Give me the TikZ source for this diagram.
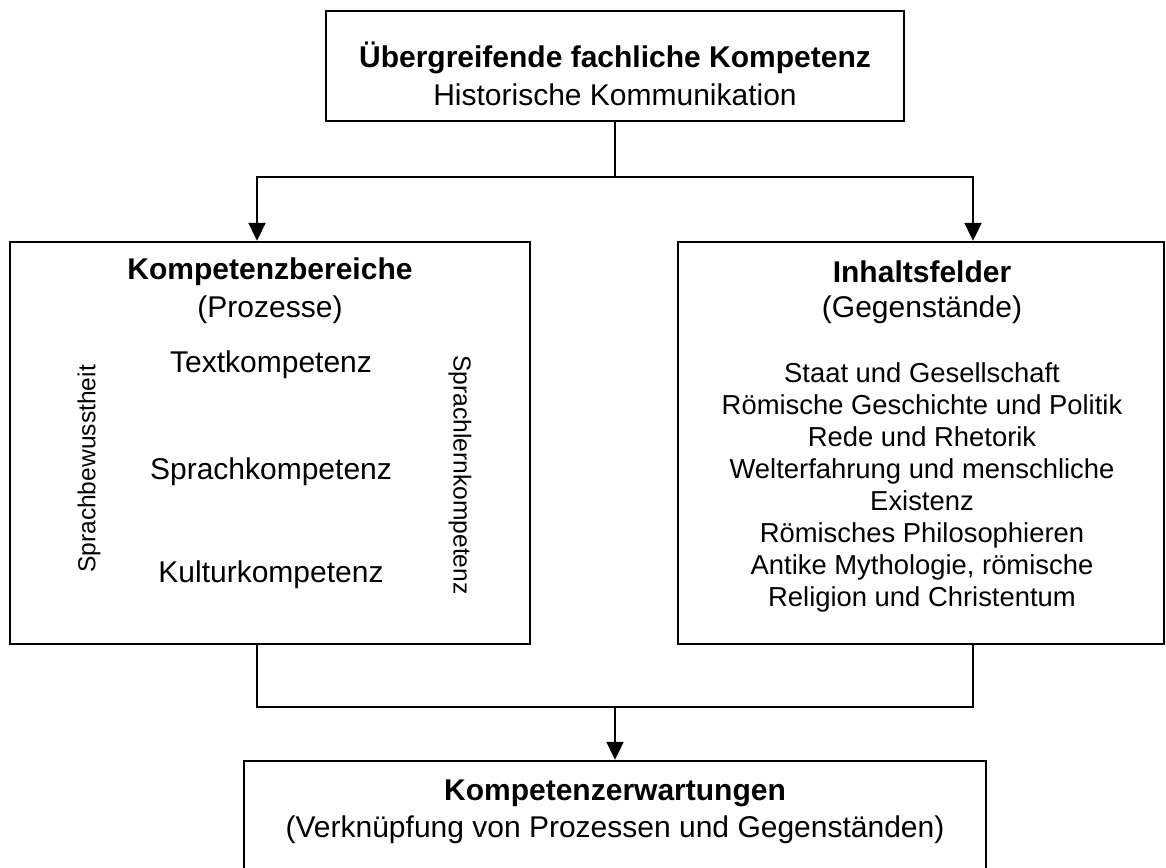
\documentclass[tikz,border=0pt]{standalone}
\usepackage{fontspec}
\setmainfont{Liberation Sans}
\usepackage{tikz}
\usetikzlibrary{arrows.meta,positioning,calc}

\tikzset{
  kasten/.style={draw,line width=1.2pt,inner sep=0pt},
  titel/.style={font=\fontsize{15}{18}\selectfont\bfseries},
  zeile/.style={font=\fontsize{15}{18}\selectfont},
  seite/.style={font=\fontsize{12.3}{15}\selectfont},
  liste/.style={font=\fontsize{13.7}{16}\selectfont,align=center}
}

\begin{document}
\begin{tikzpicture}[x=0.5pt,y=-0.5pt,line width=1pt,>={Triangle[length=9pt,width=8.5pt]}]
  \useasboundingbox (0,0) rectangle (1166,867);
  \clip (0,0) rectangle (1166,867);
  % boxes
  \node[kasten,minimum width=289pt,minimum height=55pt] (top) at (615,66) {};
  \node[kasten,minimum width=260pt,minimum height=201pt] (left) at (270,443) {};
  \node[kasten,minimum width=243pt,minimum height=201pt] (right) at (921,443) {};
  \node[kasten,minimum width=371pt,minimum height=130pt] (bottom) at (615,891) {};
  % top
  \node[titel] (ueber) at (615,58) {Übergreifende fachliche Kompetenz};
  \node[zeile] (histkom) at (615,95) {Historische Kommunikation};
  % left
  \node[titel] (kbereiche) at (270,272) {Kompetenzbereiche};
  \node[zeile] (prozesse) at (270,310) {(Prozesse)};
  \node[zeile] (textk) at (271,365) {Textkompetenz};
  \node[zeile] (sprachk) at (271,472) {Sprachkompetenz};
  \node[zeile] (kulturk) at (271,575) {Kulturkompetenz};
  \node[seite,rotate=90] (bewusst) at (89,469) {Sprachbewusstheit};
  \node[seite,rotate=-90] (lernk) at (460,475) {Sprachlernkompetenz};
  % right
  \node[titel] (ifelder) at (922,272) {Inhaltsfelder};
  \node[zeile] (gegen) at (922,310) {(Gegenstände)};
  \node[liste] (felder) at (922,487) {Staat und Gesellschaft\\Römische Geschichte und Politik\\Rede und Rhetorik\\Welterfahrung und menschliche\\Existenz\\Römisches Philosophieren\\Antike Mythologie, römische\\Religion und Christentum};
  % bottom
  \node[titel] (kerwart) at (615,793) {Kompetenzerwartungen};
  \node[zeile] (verkn) at (615,830) {(Verknüpfung von Prozessen und Gegenständen)};
  % connectors
  \coordinate (gabelL) at (257,177);
  \coordinate (gabelR) at (973,177);
  \coordinate (sammelL) at (257,707);
  \coordinate (sammelR) at (973,707);
  \draw[->] (top.south) |- (gabelL) -- (gabelL |- left.north);
  \draw[->] (top.south) |- (gabelR) -- (gabelR |- right.north);
  \draw (left.south -| sammelL) -- (sammelL) -- (sammelR) -- (right.south -| sammelR);
  \draw[->] (bottom.north |- sammelL) -- (bottom.north);
\end{tikzpicture}
\end{document}
